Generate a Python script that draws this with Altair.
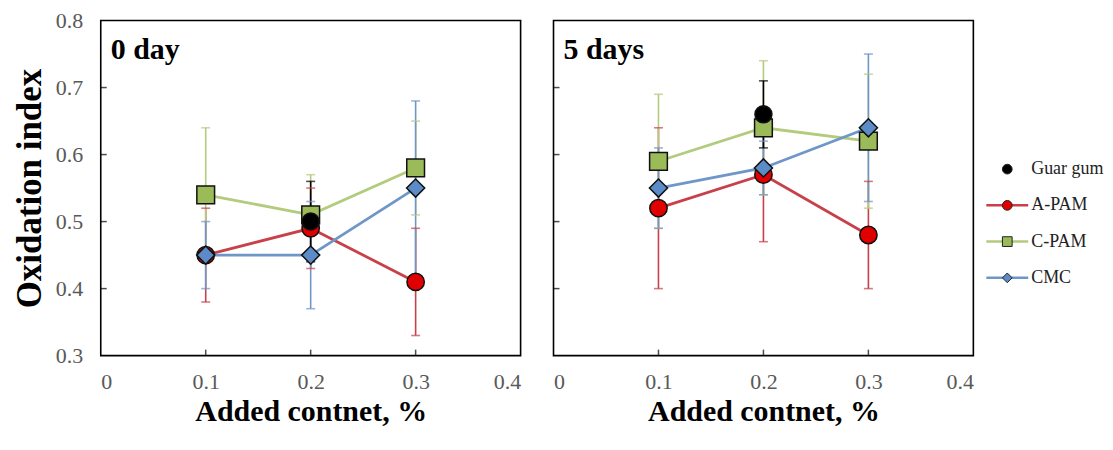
import altair as alt
import pandas as pd

# ---------------- data ----------------
x_vals = [0.1, 0.2, 0.3]
series_order = ["Guar gum", "A-PAM", "C-PAM", "CMC"]
panels = ["0 day", "5 days"]

# 0 day
d0_apam = [0.45, 0.49, 0.41]
d0_apam_err = [0.07, 0.06, 0.08]
d0_cpam = [0.54, 0.51, 0.58]
d0_cpam_err = [0.10, 0.06, 0.07]
d0_cmc = [0.45, 0.45, 0.55]
d0_cmc_err = [0.05, 0.08, 0.13]
d0_guar_x = [0.2]
d0_guar = [0.50]
d0_guar_err = [0.06]

# 5 days
d5_apam = [0.52, 0.57, 0.48]
d5_apam_err = [0.12, 0.10, 0.08]
d5_cpam = [0.59, 0.64, 0.62]
d5_cpam_err = [0.10, 0.10, 0.10]
d5_cmc = [0.55, 0.58, 0.64]
d5_cmc_err = [0.06, 0.04, 0.11]
d5_guar_x = [0.2]
d5_guar = [0.66]
d5_guar_err = [0.05]

y_ticks = [0.3, 0.4, 0.5, 0.6, 0.7, 0.8]
y_inner_ticks = [0.4, 0.5, 0.6, 0.7]
x_ticks = [0.0, 0.1, 0.2, 0.3, 0.4]
x_inner_ticks = [0.1, 0.2, 0.3]

# ---------------- styles ----------------
line_colors = ["#000000", "#D00000", "#A9C46C", "#4F81BD"]
fill_colors = ["#000000", "#E00000", "#9BBB59", "#5B8CC8"]
err_colors = ["#000000", "#C8404A", "#B3CB7C", "#6E97C8"]
shapes = ["circle", "circle", "square", "diamond"]
marker_sizes = [290, 330, 400, 300]

SERIF = "Liberation Serif"
W, H = 421, 336


def long_frame(rows):
    recs = []
    for name, xs, ys, es in rows:
        for xv, yv, ev in zip(xs, ys, es):
            recs.append({"series": name, "x": xv, "y": yv,
                         "lo": round(yv - ev, 4), "hi": round(yv + ev, 4)})
    return pd.DataFrame(recs)


df0 = long_frame([("A-PAM", x_vals, d0_apam, d0_apam_err),
                  ("C-PAM", x_vals, d0_cpam, d0_cpam_err),
                  ("CMC", x_vals, d0_cmc, d0_cmc_err),
                  ("Guar gum", d0_guar_x, d0_guar, d0_guar_err)])
df5 = long_frame([("A-PAM", x_vals, d5_apam, d5_apam_err),
                  ("C-PAM", x_vals, d5_cpam, d5_cpam_err),
                  ("CMC", x_vals, d5_cmc, d5_cmc_err),
                  ("Guar gum", d5_guar_x, d5_guar, d5_guar_err)])

xs = alt.Scale(domain=[0, 0.4], nice=False, zero=False)
ys = alt.Scale(domain=[0.3, 0.8], nice=False, zero=False)

line_scale = alt.Scale(domain=series_order, range=line_colors)
fill_scale = alt.Scale(domain=series_order, range=fill_colors)
err_scale = alt.Scale(domain=series_order, range=err_colors)
shape_scale = alt.Scale(domain=series_order, range=shapes)
size_scale = alt.Scale(domain=series_order, range=marker_sizes)

x_axis = alt.Axis(values=x_ticks, format=".1~f", domain=False, ticks=False, grid=False,
                  labelFont=SERIF, labelFontSize=22, labelColor="#595959", labelPadding=16,
                  title="Added contnet, %", titleFont=SERIF, titleFontSize=30,
                  titleFontWeight="bold", titleColor="#000000", titlePadding=4)
y_axis_left = alt.Axis(values=y_ticks, format=".1f", domain=False, ticks=False, grid=False,
                       labelFont=SERIF, labelFontSize=22, labelColor="#595959", labelPadding=18,
                       title="Oxidation index", titleFont=SERIF, titleFontSize=35,
                       titleFontWeight="bold", titleColor="#000000", titlePadding=8)


def panel(df, label, y_axis):
    def X(field):
        return alt.X(field, type="quantitative", scale=xs, axis=x_axis)

    def Y(field):
        return alt.Y(field, type="quantitative", scale=ys, axis=y_axis)

    base = alt.Chart(df)
    err_rule = base.mark_rule(strokeWidth=1.6).encode(
        x=X("x"), y=Y("lo"), y2="hi",
        color=alt.Color("series:N", scale=err_scale, legend=None))
    cap_lo = base.mark_tick(orient="horizontal", size=9, thickness=1.6).encode(
        x=X("x"), y=Y("lo"), color=alt.Color("series:N", scale=err_scale, legend=None))
    cap_hi = base.mark_tick(orient="horizontal", size=9, thickness=1.6).encode(
        x=X("x"), y=Y("hi"), color=alt.Color("series:N", scale=err_scale, legend=None))
    lines = base.transform_filter(alt.datum.series != "Guar gum").mark_line(strokeWidth=2.8).encode(
        x=X("x"), y=Y("y"),
        color=alt.Color("series:N", scale=line_scale, legend=None),
        detail="series:N")
    pts = base.mark_point(filled=True, opacity=1, stroke="#111111", strokeWidth=1.5).encode(
        x=X("x"), y=Y("y"),
        fill=alt.Fill("series:N", scale=fill_scale, legend=None),
        shape=alt.Shape("series:N", scale=shape_scale, legend=None),
        size=alt.Size("series:N", scale=size_scale, legend=None),
        order=alt.Order("rank:Q"),
    ).transform_calculate(rank="indexof(['A-PAM','C-PAM','CMC','Guar gum'], datum.series)")
    ytk = alt.Chart(pd.DataFrame({"v": y_inner_ticks})).mark_tick(
        orient="horizontal", size=6, thickness=1.5, color="#000000").encode(
        y=Y("v"), x=alt.value(3))
    xtk = alt.Chart(pd.DataFrame({"v": x_inner_ticks})).mark_tick(
        orient="vertical", size=6, thickness=1.5, color="#000000").encode(
        x=X("v"), y=alt.value(H - 3))
    txt = alt.Chart(pd.DataFrame({"t": [label]})).mark_text(
        align="left", baseline="alphabetic", font=SERIF, fontSize=30, fontWeight="bold",
        color="#000000").encode(text="t:N", x=alt.value(10), y=alt.value(39))
    return alt.layer(ytk, xtk, err_rule, cap_lo, cap_hi, lines, pts, txt).properties(
        width=W, height=H)


left = panel(df0, panels[0], y_axis_left)
right = panel(df5, panels[1], None)

# ---------------- legend ----------------
leg_df = pd.DataFrame({"series": series_order, "pos": list(range(len(series_order)))})
leg_y = alt.Y("pos:Q", scale=alt.Scale(domain=[0, 3], range=[149, 258]), axis=None)
leg_line = alt.Chart(leg_df).transform_filter(alt.datum.series != "Guar gum").mark_rule(
    strokeWidth=2.5).encode(
    y=leg_y, x=alt.value(8), x2=alt.value(50),
    color=alt.Color("series:N", scale=line_scale, legend=None))
leg_pt = alt.Chart(leg_df).mark_point(filled=True, opacity=1, size=95, stroke="#222222",
                                      strokeWidth=1).encode(
    y=leg_y, x=alt.value(29),
    fill=alt.Fill("series:N", scale=fill_scale, legend=None),
    shape=alt.Shape("series:N", scale=shape_scale, legend=None))
leg_txt = alt.Chart(leg_df).mark_text(align="left", baseline="middle", font=SERIF, fontSize=18,
                                      color="#222222").encode(
    y=leg_y, x=alt.value(53), text="series:N")
legend = alt.layer(leg_line, leg_pt, leg_txt).properties(
    width=124, height=H, view=alt.ViewBackground(stroke="transparent"))

panels_row = alt.hconcat(left, right, spacing=31)
chart = alt.hconcat(panels_row, legend, spacing=3).properties(
    padding={"left": 3, "top": 0, "right": 0, "bottom": 0},
    background="#ffffff",
).configure_view(stroke="#000000", strokeWidth=1.6)

chart.save("out.html", embed_options={"renderer": "svg", "actions": False})
